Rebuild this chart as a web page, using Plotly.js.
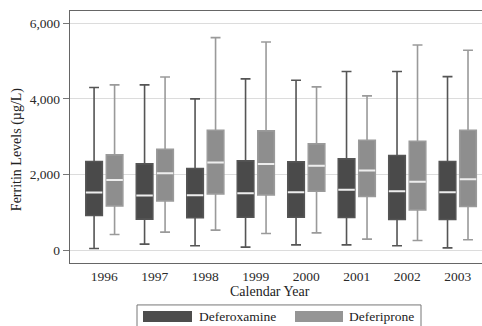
<!DOCTYPE html>
<html>
<head>
<meta charset="utf-8">
<script src="https://cdn.plot.ly/plotly-3.0.1.min.js"></script>
<style>html,body{margin:0;padding:0;background:#fff;}#chart{width:482px;height:326px;}</style>
</head>
<body>
<div id="chart"></div>
<script>
// Calendar years (categories)
const years = ['1996','1997','1998','1999','2000','2001','2002','2003'];
// Deferoxamine box statistics (µg/L)
const defLow  = [45, 160, 115, 80, 140, 140, 115, 60];
const defQ1   = [917, 820, 855, 870, 870, 865, 810, 810];
const defMed  = [1525, 1446, 1454, 1507, 1533, 1595, 1559, 1533];
const defQ3   = [2344, 2281, 2160, 2361, 2335, 2414, 2502, 2344];
const defHigh = [4300, 4370, 4000, 4530, 4493, 4723, 4723, 4590];
// Deferiprone box statistics (µg/L)
const dpLow  = [415, 476, 529, 441, 458, 291, 256, 273];
const dpQ1   = [1171, 1304, 1489, 1463, 1559, 1419, 1066, 1154];
const dpMed  = [1858, 2035, 2318, 2281, 2229, 2106, 1806, 1877];
const dpQ3   = [2519, 2670, 3172, 3154, 2811, 2907, 2881, 3172];
const dpHigh = [4370, 4581, 5622, 5507, 4317, 4079, 5427, 5286];
const seriesNames = ['Deferoxamine', 'Deferiprone'];

const FONT = '"Liberation Serif", "Times New Roman", serif';
const defFill = '#4a4a4a', defLine = '#555555';
const dpFill = '#8e8e8e', dpLine = '#9a9a9a';
const medColor = '#ededed';

function boxTrace(name, group, q1, med, q3, lo, hi, fill, line) {
  return {
    type: 'box', name: name, x: years, offsetgroup: group, alignmentgroup: 'a',
    q1: q1, median: med, q3: q3, lowerfence: lo, upperfence: hi,
    fillcolor: fill, line: {color: line, width: 1.6}, whiskerwidth: 0.6,
    boxpoints: false, showlegend: false, hoverinfo: 'skip'
  };
}
function medTrace(group, med) {
  return {
    type: 'box', x: years, offsetgroup: group, alignmentgroup: 'a',
    q1: med, median: med, q3: med, lowerfence: med, upperfence: med,
    fillcolor: 'rgba(0,0,0,0)', line: {color: medColor, width: 2}, whiskerwidth: 0,
    boxpoints: false, showlegend: false, hoverinfo: 'skip'
  };
}

const data = [
  boxTrace(seriesNames[0], 'def', defQ1, defMed, defQ3, defLow, defHigh, defFill, defLine),
  boxTrace(seriesNames[1], 'dp', dpQ1, dpMed, dpQ3, dpLow, dpHigh, dpFill, dpLine),
  medTrace('def', defMed),
  medTrace('dp', dpMed)
];

// pixel helpers for paper coordinates (plot area 70..482 x 11..263)
const L = 70, R = 482, T = 10.7, B = 263;
const px = v => (v - L) / (R - L);
const py = v => (B - v) / (B - T);

const layout = {
  width: 482, height: 326,
  margin: {l: L, r: 0, t: T, b: 326 - B},
  paper_bgcolor: '#ffffff', plot_bgcolor: '#ffffff',
  font: {family: FONT, size: 13, color: '#2a2a2a'},
  boxmode: 'group', boxgap: 0.188, boxgroupgap: 0.195,
  showlegend: false,
  xaxis: {
    type: 'category', range: [-0.68, 7.48],
    showline: true, mirror: true, linecolor: '#666666', linewidth: 1.3,
    ticks: '', showgrid: false, zeroline: false,
    tickfont: {family: FONT, size: 13.5, color: '#2a2a2a'}
  },
  yaxis: {
    range: [-340, 6325], tickvals: [0, 2000, 4000, 6000], tickformat: ',d',
    showline: true, linecolor: '#666666', linewidth: 1.3,
    ticks: 'outside', ticklen: 6, tickcolor: '#777777', tickwidth: 1,
    showgrid: true, gridcolor: '#dcdcdc', gridwidth: 1, zeroline: false,
    tickfont: {family: FONT, size: 13.5, color: '#2a2a2a'}
  },
  annotations: [
    {text: 'Calendar Year', xref: 'paper', yref: 'paper', x: px(270), y: py(292),
     xanchor: 'center', yanchor: 'middle', showarrow: false,
     font: {family: FONT, size: 14, color: '#222222'}},
    {text: 'Ferritin Levels (µg/L)', xref: 'paper', yref: 'paper', x: px(17), y: py(150),
     xanchor: 'center', yanchor: 'middle', showarrow: false, textangle: -90,
     font: {family: FONT, size: 14, color: '#222222'}},
    {text: seriesNames[0], xref: 'paper', yref: 'paper', x: px(197), y: py(317),
     xanchor: 'left', yanchor: 'middle', showarrow: false,
     font: {family: FONT, size: 13.5, color: '#222222'}},
    {text: seriesNames[1], xref: 'paper', yref: 'paper', x: px(347), y: py(317),
     xanchor: 'left', yanchor: 'middle', showarrow: false,
     font: {family: FONT, size: 13.5, color: '#222222'}}
  ],
  shapes: [
    {type: 'rect', xref: 'paper', yref: 'paper', x0: px(137), x1: px(421), y0: py(305), y1: py(334),
     line: {color: '#777777', width: 1}, fillcolor: 'rgba(0,0,0,0)'},
    {type: 'rect', xref: 'paper', yref: 'paper', x0: px(143), x1: px(192), y0: py(311), y1: py(322),
     line: {width: 0}, fillcolor: '#4d4d4d'},
    {type: 'rect', xref: 'paper', yref: 'paper', x0: px(295), x1: px(343), y0: py(311), y1: py(322),
     line: {width: 0}, fillcolor: '#959595'}
  ]
};

Plotly.newPlot('chart', data, layout, {staticPlot: true, displayModeBar: false});
</script>
</body>
</html>
